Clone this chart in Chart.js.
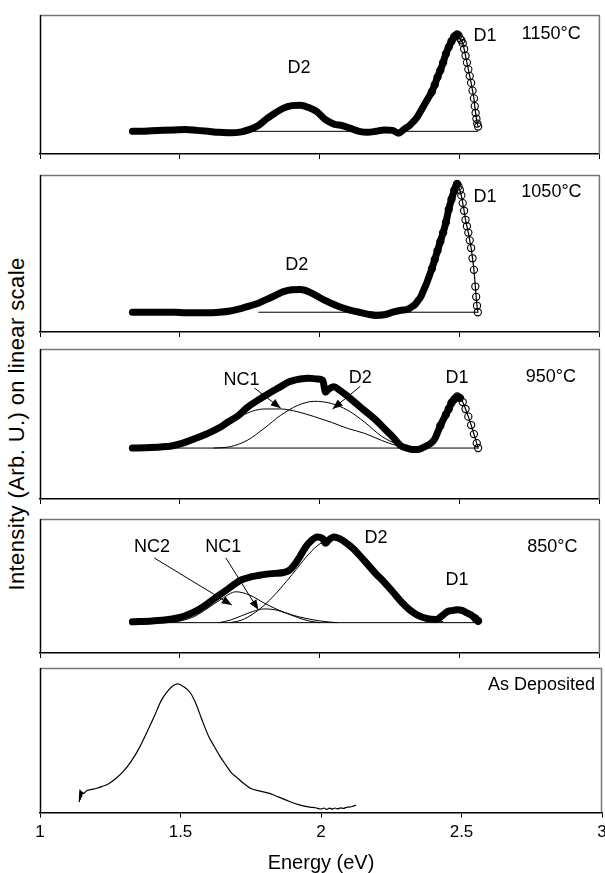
<!DOCTYPE html>
<html>
<head>
<meta charset="utf-8">
<script src="https://cdn.jsdelivr.net/npm/chart.js@4.4.1/dist/chart.umd.min.js"></script>
<style>
  body { margin: 0; width: 605px; height: 873px; overflow: hidden; background: #fff; position: relative;
         font-family: "Liberation Sans", Arial, Helvetica, sans-serif; }
  canvas { position: absolute; left: 0; }
  #ytitle { position: absolute; left: 17px; top: 424px; transform: translate(-50%, -50%) rotate(-90deg);
            white-space: nowrap; font-size: 22px; letter-spacing: 0.4px; color: #000; }
</style>
</head>
<body>
<div id="ytitle">Intensity (Arb. U.) on linear scale</div>
<canvas id="p1150"></canvas>
<canvas id="p1050"></canvas>
<canvas id="p950"></canvas>
<canvas id="p850"></canvas>
<canvas id="pasdep"></canvas>
<script>
// ---- 1150°C ----
let energy1150 = [1.33, 1.36, 1.40, 1.44, 1.48, 1.52, 1.56, 1.60, 1.64, 1.68, 1.72, 1.75, 1.78, 1.81, 1.84, 1.87, 1.90, 1.93, 1.96, 1.99,
    2.02, 2.05, 2.08, 2.11, 2.14, 2.17, 2.20, 2.23, 2.26, 2.28, 2.30, 2.31, 2.32, 2.33, 2.34, 2.35, 2.36, 2.37, 2.38, 2.39,
    2.40, 2.41, 2.42, 2.43, 2.44, 2.45, 2.46, 2.47, 2.48, 2.49, 2.495, 2.50, 2.505, 2.51, 2.515, 2.52, 2.525, 2.53, 2.535,
    2.54, 2.545, 2.55, 2.553, 2.556, 2.559, 2.562, 2.565];
let intensity1150 = [0, 0, 0.005, 0.01, 0.015, 0.02, 0.01, 0, -0.01, -0.015, -0.005, 0.02, 0.06, 0.13, 0.19, 0.24, 0.265, 0.27, 0.245, 0.2,
    0.12, 0.075, 0.06, 0.03, 0, -0.01, 0, 0.015, 0.01, -0.02, 0.02, 0.04, 0.06, 0.09, 0.12, 0.16, 0.21, 0.26, 0.31, 0.36,
    0.41, 0.48, 0.56, 0.63, 0.71, 0.80, 0.87, 0.93, 0.98, 1.0, 0.99, 0.96, 0.94, 0.91, 0.85, 0.78, 0.71, 0.64, 0.57,
    0.50, 0.42, 0.34, 0.26, 0.19, 0.13, 0.08, 0.05];
let baseline1150E = [1.75, 2.565];
let baseline1150I = [0, 0];

// ---- 1050°C ----
let energy1050 = [1.33, 1.36, 1.40, 1.44, 1.48, 1.52, 1.56, 1.60, 1.64, 1.68, 1.72, 1.75, 1.78, 1.81, 1.84, 1.87, 1.90, 1.93, 1.96, 1.99,
    2.02, 2.05, 2.08, 2.11, 2.14, 2.17, 2.20, 2.23, 2.26, 2.29, 2.31, 2.32, 2.33, 2.34, 2.35, 2.36, 2.37, 2.38, 2.39, 2.40,
    2.41, 2.42, 2.43, 2.44, 2.45, 2.46, 2.47, 2.48, 2.49, 2.495, 2.50, 2.505, 2.51, 2.515, 2.52, 2.525, 2.53, 2.535, 2.54,
    2.545, 2.55, 2.555, 2.558, 2.561, 2.564];
let intensity1050 = [0, 0, 0, 0, 0, -0.005, -0.005, -0.005, 0, 0.01, 0.03, 0.05, 0.07, 0.1, 0.13, 0.16, 0.175, 0.177, 0.16, 0.125,
    0.09, 0.06, 0.035, 0.015, 0, -0.015, -0.025, -0.02, 0, 0.015, 0.02, 0.03, 0.045, 0.06, 0.09, 0.12, 0.17, 0.22, 0.28, 0.34,
    0.41, 0.48, 0.55, 0.62, 0.70, 0.80, 0.88, 0.95, 1.0, 0.98, 0.95, 0.91, 0.85, 0.79, 0.72, 0.67, 0.62, 0.56, 0.50,
    0.42, 0.33, 0.2, 0.12, 0.05, 0];
let baseline1050E = [1.78, 2.565];
let baseline1050I = [0, 0];

// ---- 950°C ----
let energy950 = [1.33, 1.38, 1.43, 1.47, 1.51, 1.55, 1.60, 1.64, 1.67, 1.71, 1.74, 1.78, 1.82, 1.86, 1.89, 1.93, 1.96, 1.99, 2.01, 2.02,
    2.03, 2.05, 2.07, 2.09, 2.12, 2.16, 2.20, 2.23, 2.26, 2.29, 2.31, 2.33, 2.35, 2.37, 2.39, 2.41, 2.43, 2.45, 2.46, 2.47,
    2.48, 2.49, 2.50, 2.51, 2.52, 2.53, 2.54, 2.55, 2.56, 2.565];
let intensity950 = [0, 0.005, 0.015, 0.03, 0.07, 0.13, 0.21, 0.29, 0.37, 0.47, 0.58, 0.69, 0.79, 0.88, 0.95, 0.99, 1.0, 0.99, 0.97, 0.8,
    0.84, 0.88, 0.83, 0.77, 0.67, 0.535, 0.4, 0.28, 0.16, 0.03, 0, -0.02, -0.02, 0.01, 0.05, 0.13, 0.32, 0.48, 0.56, 0.65,
    0.70, 0.74, 0.72, 0.66, 0.56, 0.45, 0.33, 0.2, 0.07, 0];
let nc1Fit950E = [1.40, 1.48, 1.55, 1.62, 1.68, 1.74, 1.80, 1.86, 1.92, 1.98, 2.04, 2.10, 2.16, 2.22, 2.28, 2.34];
let nc1Fit950I = [0, 0.03, 0.12, 0.24, 0.37, 0.5, 0.56, 0.56, 0.52, 0.45, 0.37, 0.28, 0.21, 0.11, 0.03, 0];
let d2Fit950E = [1.62, 1.68, 1.74, 1.80, 1.86, 1.92, 1.98, 2.04, 2.10, 2.16, 2.22, 2.28, 2.34];
let d2Fit950I = [0, 0.02, 0.11, 0.28, 0.47, 0.61, 0.67, 0.64, 0.54, 0.37, 0.17, 0.05, 0];
let baseline950E = [1.33, 2.565];
let baseline950I = [0, 0];

// ---- 850°C ----
let energy850 = [1.33, 1.40, 1.465, 1.50, 1.53, 1.56, 1.585, 1.61, 1.64, 1.67, 1.695, 1.72, 1.75, 1.78, 1.81, 1.84, 1.87, 1.89, 1.91, 1.93,
    1.95, 1.97, 1.99, 2.01, 2.02, 2.03, 2.05, 2.07, 2.09, 2.12, 2.16, 2.20, 2.23, 2.26, 2.29, 2.32, 2.345, 2.38, 2.415, 2.44,
    2.455, 2.47, 2.49, 2.51, 2.525, 2.54, 2.555, 2.565];
let intensity850 = [0.01, 0.02, 0.04, 0.06, 0.094, 0.14, 0.19, 0.25, 0.32, 0.39, 0.45, 0.50, 0.53, 0.55, 0.566, 0.575, 0.585, 0.61, 0.68, 0.78,
    0.887, 0.96, 1.0, 0.98, 0.925, 0.96, 1.0, 0.98, 0.94, 0.86, 0.717, 0.57, 0.47, 0.36, 0.245, 0.15, 0.094, 0.05, 0.038, 0.09,
    0.13, 0.14, 0.15, 0.14, 0.113, 0.09, 0.05, 0.02];
let nc2Fit850E = [1.45, 1.50, 1.55, 1.60, 1.65, 1.70, 1.75, 1.80, 1.85, 1.90, 1.95, 2.00, 2.06];
let nc2Fit850I = [0, 0.02, 0.07, 0.17, 0.28, 0.36, 0.32, 0.23, 0.15, 0.09, 0.05, 0.02, 0];
let nc1Fit850E = [1.64, 1.68, 1.72, 1.76, 1.80, 1.84, 1.88, 1.92, 1.96, 2.00];
let nc1Fit850I = [0, 0.03, 0.08, 0.13, 0.16, 0.15, 0.11, 0.06, 0.02, 0];
let d2Fit850E = [1.68, 1.72, 1.76, 1.80, 1.84, 1.88, 1.92, 1.96, 2.00, 2.04, 2.08, 2.14, 2.20, 2.26, 2.32, 2.38, 2.44];
let d2Fit850I = [0, 0.03, 0.1, 0.2, 0.33, 0.48, 0.64, 0.8, 0.92, 0.97, 0.94, 0.8, 0.6, 0.37, 0.17, 0.06, 0.01];
let baseline850E = [1.33, 2.565];
let baseline850I = [0, 0];

// ---- As deposited ----
let energyAsDep = [1.140, 1.142, 1.144, 1.146, 1.148, 1.150, 1.155, 1.165, 1.18, 1.20, 1.22, 1.243, 1.27, 1.298, 1.325, 1.353, 1.38, 1.408,
    1.43, 1.45, 1.47, 1.49, 1.51, 1.535, 1.555, 1.575, 1.60, 1.617, 1.64, 1.66, 1.68, 1.70, 1.725, 1.752, 1.78, 1.82, 1.85,
    1.89, 1.92, 1.96, 1.98, 2.00, 2.01, 2.02, 2.03, 2.04, 2.05, 2.06, 2.07, 2.08, 2.09, 2.10, 2.11, 2.12, 2.125];
let intensityAsDep = [0.05, 0.15, 0.07, 0.14, 0.09, 0.13, 0.12, 0.14, 0.15, 0.16, 0.175, 0.196, 0.24, 0.301, 0.38, 0.484, 0.61, 0.746,
    0.86, 0.93, 0.98, 1.0, 0.98, 0.929, 0.84, 0.72, 0.58, 0.51, 0.42, 0.353, 0.29, 0.249, 0.2, 0.157, 0.14, 0.118, 0.09,
    0.053, 0.03, 0.01, 0.005, -0.005, 0.003, -0.008, 0.002, -0.006, 0.003, -0.004, 0.004, 0, 0.008, 0.01, 0.015, 0.022, 0.027];

// axis ticks
let energyTicks = [1, 1.5, 2, 2.5, 3];

const FONT = '"Liberation Sans", Arial, Helvetica, sans-serif';

function pairs(xs, ys) {
    return xs.map((x, i) => ({ x: x, y: ys[i] }));
}

function measured(xs, ys, thinFrom, circlesFrom) {
    return {
        data: pairs(xs, ys),
        borderColor: '#000',
        borderWidth: 7,
        borderCapStyle: 'round',
        borderJoinStyle: 'round',
        cubicInterpolationMode: 'monotone',
        segment: {
            borderWidth: ctx => ctx.p0.parsed.x >= thinFrom ? 1.2 : 7
        },
        pointRadius: ctx => (ctx.raw && ctx.raw.x >= circlesFrom) ? 3.6 : 0,
        pointBorderColor: '#000',
        pointBorderWidth: 1.1,
        pointBackgroundColor: 'rgba(0,0,0,0)'
    };
}

function thin(xs, ys, width) {
    return {
        data: pairs(xs, ys),
        borderColor: '#000',
        borderWidth: width || 1,
        pointRadius: 0,
        cubicInterpolationMode: 'monotone'
    };
}

// frame, text labels and arrows, placed in data coordinates
const panelDecor = {
    id: 'panelDecor',
    afterDatasetsDraw(chart, args, opts) {
        let ctx = chart.ctx;
        let a = chart.chartArea;
        let sx = chart.scales.x, sy = chart.scales.y;
        ctx.save();
        ctx.lineWidth = 1.5;
        ctx.strokeStyle = '#777';
        ctx.beginPath();
        ctx.moveTo(a.left, a.top + 0.5);
        ctx.lineTo(a.right - 0.5, a.top + 0.5);
        ctx.lineTo(a.right - 0.5, a.bottom);
        ctx.stroke();
        ctx.strokeStyle = '#000';
        ctx.beginPath();
        ctx.moveTo(a.left + 0.5, a.top);
        ctx.lineTo(a.left + 0.5, a.bottom);
        ctx.stroke();

        ctx.fillStyle = '#000';
        ctx.font = '18px ' + FONT;
        ctx.textBaseline = 'middle';
        (opts.notes || []).forEach(n => {
            ctx.textAlign = n.align || 'center';
            ctx.fillText(n.text, sx.getPixelForValue(n.x), sy.getPixelForValue(n.y));
        });

        ctx.lineWidth = 1;
        (opts.arrows || []).forEach(ar => {
            let x0 = sx.getPixelForValue(ar[0]), y0 = sy.getPixelForValue(ar[1]);
            let x1 = sx.getPixelForValue(ar[2]), y1 = sy.getPixelForValue(ar[3]);
            let ang = Math.atan2(y1 - y0, x1 - x0);
            ctx.beginPath();
            ctx.moveTo(x0, y0);
            ctx.lineTo(x1, y1);
            ctx.stroke();
            ctx.beginPath();
            ctx.moveTo(x1, y1);
            ctx.lineTo(x1 - 10 * Math.cos(ang) + 4 * Math.sin(ang), y1 - 10 * Math.sin(ang) - 4 * Math.cos(ang));
            ctx.lineTo(x1 - 10 * Math.cos(ang) - 4 * Math.sin(ang), y1 - 10 * Math.sin(ang) + 4 * Math.cos(ang));
            ctx.closePath();
            ctx.fill();
        });
        ctx.restore();
    }
};

let panels = [
    {
        id: 'p1150', top: 11, bottom: 154, yMin: -0.234, yMax: 1.2,
        datasets: [measured(energy1150, intensity1150, 2.49, 2.40), thin(baseline1150E, baseline1150I)],
        notes: [
            { text: 'D2', x: 1.925, y: 0.65 },
            { text: 'D1', x: 2.59, y: 0.98 },
            { text: '1150\u00B0C', x: 2.826, y: 1.0 }
        ],
        arrows: []
    },
    {
        id: 'p1050', top: 171, bottom: 332, yMin: -0.154, yMax: 1.068,
        datasets: [measured(energy1050, intensity1050, 2.49, 2.40), thin(baseline1050E, baseline1050I)],
        notes: [
            { text: 'D2', x: 1.917, y: 0.367 },
            { text: 'D1', x: 2.59, y: 0.9 },
            { text: '1050\u00B0C', x: 2.827, y: 0.937 }
        ],
        arrows: []
    },
    {
        id: 'p950', top: 345, bottom: 499, yMin: -0.73, yMax: 1.418,
        datasets: [measured(energy950, intensity950, 2.50, 2.43), thin(nc1Fit950E, nc1Fit950I),
            thin(d2Fit950E, d2Fit950I), thin(baseline950E, baseline950I)],
        notes: [
            { text: 'NC1', x: 1.72, y: 0.98 },
            { text: 'D2', x: 2.144, y: 1.0 },
            { text: 'D1', x: 2.49, y: 1.0 },
            { text: '950\u00B0C', x: 2.825, y: 1.02 }
        ],
        arrows: [[1.766, 0.86, 1.86, 0.57], [2.144, 0.884, 2.045, 0.56]]
    },
    {
        id: 'p850', top: 515, bottom: 653, yMin: -0.354, yMax: 1.208,
        datasets: [measured(energy850, intensity850, 9, 2.55), thin(nc2Fit850E, nc2Fit850I),
            thin(nc1Fit850E, nc1Fit850I), thin(d2Fit850E, d2Fit850I), thin(baseline850E, baseline850I)],
        notes: [
            { text: 'NC2', x: 1.40, y: 0.888 },
            { text: 'NC1', x: 1.655, y: 0.888 },
            { text: 'D2', x: 2.2, y: 0.99 },
            { text: 'D1', x: 2.49, y: 0.5 },
            { text: '850\u00B0C', x: 2.83, y: 0.888 }
        ],
        arrows: [[1.408, 0.755, 1.685, 0.205], [1.664, 0.755, 1.78, 0.15]]
    },
    {
        id: 'pasdep', top: 668, bottom: 816, yMin: -0.034, yMax: 1.128, last: true,
        datasets: [thin(energyAsDep, intensityAsDep, 1.2)],
        notes: [
            { text: 'As Deposited', x: 2.975, y: 0.99, align: 'right' }
        ],
        arrows: []
    }
];

panels.forEach(p => setupPanel(p));

function setupPanel(p) {
    let canvas = document.getElementById(p.id);
    let height = p.last ? 214 : (p.bottom - p.top) + 8;
    canvas.width = 605;
    canvas.height = height;
    canvas.style.top = (p.top - 1) + 'px';
    canvas.style.width = '605px';
    canvas.style.height = height + 'px';

    new Chart(canvas.getContext('2d'), {
        type: 'line',
        data: { datasets: p.datasets },
        options: {
            responsive: false,
            animation: false,
            devicePixelRatio: 1,
            layout: { padding: { left: 40, right: 3, top: 1, bottom: 2 } },
            plugins: {
                legend: { display: false },
                tooltip: { enabled: false },
                panelDecor: { notes: p.notes, arrows: p.arrows }
            },
            scales: {
                x: {
                    type: 'linear',
                    min: energyTicks[0],
                    max: energyTicks[energyTicks.length - 1],
                    afterBuildTicks: scale => {
                        scale.ticks = energyTicks.map(v => ({ value: v }));
                    },
                    afterFit: scale => {
                        scale.paddingLeft = 0;
                        scale.paddingRight = 0;
                    },
                    ticks: {
                        display: !!p.last,
                        color: '#000',
                        padding: 5,
                        maxRotation: 0,
                        autoSkip: false,
                        font: { size: 17, family: FONT },
                        callback: v => String(v)
                    },
                    grid: { display: true, drawOnChartArea: false, drawTicks: true, tickLength: 5, color: '#000' },
                    border: { display: true, color: '#000', width: 1.5 },
                    title: {
                        display: !!p.last,
                        text: 'Energy (eV)',
                        color: '#000',
                        font: { size: 20, family: FONT },
                        padding: { top: 3, bottom: 4 }
                    }
                },
                y: { display: false, min: p.yMin, max: p.yMax }
            }
        },
        plugins: [panelDecor]
    });
}
</script>
</body>
</html>
